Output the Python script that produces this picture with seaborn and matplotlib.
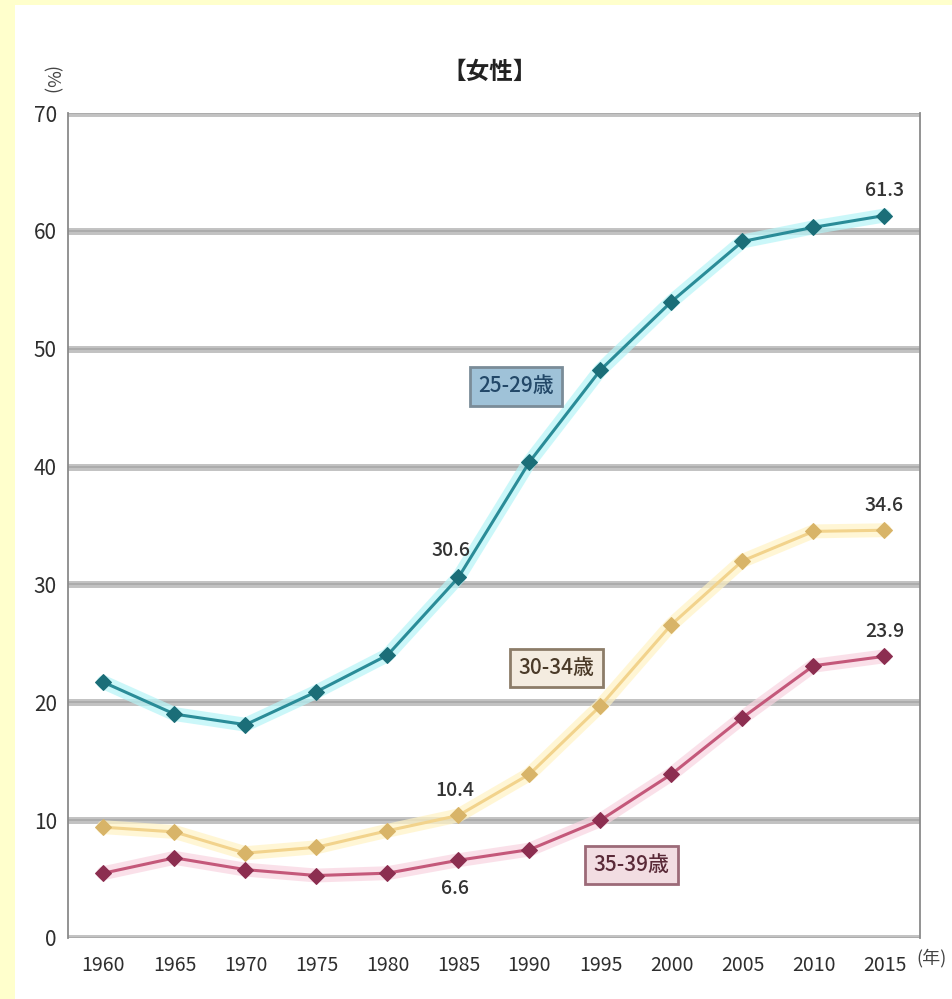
import matplotlib
matplotlib.use("Agg")
import matplotlib.pyplot as plt
from matplotlib.patches import Rectangle
import numpy as np
import pandas as pd
import seaborn as sns

sns.set_theme(style="white")
plt.rcParams["font.family"] = ["Noto Sans CJK JP", "DejaVu Sans"]

# 未婚率の推移（女性、年齢階級別）
years = ["1960", "1965", "1970", "1975", "1980", "1985", "1990",
         "1995", "2000", "2005", "2010", "2015"]
age_25_29 = [21.7, 19.0, 18.1, 20.9, 24.0, 30.6, 40.4, 48.2, 54.0, 59.1, 60.3, 61.3]
age_30_34 = [9.4, 9.0, 7.2, 7.7, 9.1, 10.4, 13.9, 19.7, 26.6, 32.0, 34.5, 34.6]
age_35_39 = [5.5, 6.8, 5.8, 5.3, 5.5, 6.6, 7.5, 10.0, 13.9, 18.7, 23.1, 23.9]
series_names = ["25-29歳", "30-34歳", "35-39歳"]
y_ticks = [0, 10, 20, 30, 40, 50, 60, 70]

df = pd.DataFrame({
    "idx": np.tile(np.arange(len(years)), 3),
    "year": years * 3,
    "rate": age_25_29 + age_30_34 + age_35_39,
    "group": np.repeat(series_names, len(years)),
})

W, H = 953, 999
fig = plt.figure(figsize=(W / 100, H / 100), dpi=100)
fig.patch.set_facecolor("#FFFFCC")
fig.patches.append(Rectangle((15 / W, 0), 1 - 15 / W, 1 - 5 / H,
                             transform=fig.transFigure, facecolor="white",
                             edgecolor="none", zorder=-10))

ax = fig.add_axes([68 / W, 1 - 938 / H, (920 - 68) / W, (938 - 113) / H])
ax.set_zorder(2)
ax.set_facecolor("white")

line_colors = {"25-29歳": "#2a8c98", "30-34歳": "#f2d38c", "35-39歳": "#c4587a"}
marker_colors = {"25-29歳": "#1b6e78", "30-34歳": "#d8b468", "35-39歳": "#8c2e50"}
glow_colors = {"25-29歳": "#b6f4f7", "30-34歳": "#fff3c4", "35-39歳": "#f8d4e0"}

for name in series_names:
    sub = df[df["group"] == name]
    ax.plot(sub["idx"], sub["rate"], color=glow_colors[name], lw=10,
            alpha=0.7, solid_capstyle="round", zorder=2)
    sns.lineplot(data=sub, x="idx", y="rate", ax=ax, color=line_colors[name],
                 lw=2.2, marker="D", markersize=8, markerfacecolor=marker_colors[name],
                 markeredgecolor=marker_colors[name], zorder=3, legend=False)

ax.set_xlim(-0.5, len(years) - 0.5)
ax.set_ylim(0, 70)
ax.set_yticks(y_ticks)
ax.set_yticklabels([str(v) for v in y_ticks], fontsize=15, color="#2e2e2e")
ax.set_xticks(np.arange(len(years)))
ax.set_xticklabels(years, fontsize=14, color="#2e2e2e")
ax.set_xticks(np.arange(len(years) - 1) + 0.5, minor=True)
ax.tick_params(axis="x", which="major", length=0, pad=12)
ax.tick_params(axis="x", which="minor", direction="in", length=6, color="#777777", width=1)
ax.tick_params(axis="y", length=0, pad=8)
ax.set_xlabel("")
ax.set_ylabel("")

for v in y_ticks:
    ax.axhline(v, color="#c2c2c2", lw=5, zorder=1)
    ax.axhline(v, color="#a8a8a8", lw=1.2, zorder=1)

ax.spines["top"].set_visible(False)
ax.spines["bottom"].set_visible(False)
for side in ["left", "right"]:
    ax.spines[side].set_color("#8a8a8a")
    ax.spines[side].set_linewidth(1.3)

# 数値ラベル
lab_kw = dict(fontsize=14, color="#333333", ha="center", fontweight="medium")
ax.text(11, age_25_29[11] + 1.3, f"{age_25_29[11]}", va="bottom", **lab_kw)
ax.text(11, age_30_34[11] + 1.3, f"{age_30_34[11]}", va="bottom", **lab_kw)
ax.text(11, age_35_39[11] + 1.3, f"{age_35_39[11]}", va="bottom", **lab_kw)
ax.text(4.9, age_25_29[5] + 1.5, f"{age_25_29[5]}", va="bottom", **lab_kw)
ax.text(4.95, age_30_34[5] + 1.3, f"{age_30_34[5]}", va="bottom", **lab_kw)
ax.text(4.95, age_35_39[5] - 1.6, f"{age_35_39[5]}", va="top", **lab_kw)

# 系列名ボックス
box_pos = {"25-29歳": (5.81, 46.8), "30-34歳": (6.38, 22.9), "35-39歳": (7.44, 6.2)}
box_face = {"25-29歳": "#9fc2d8", "30-34歳": "#f4ece0", "35-39歳": "#f2dde2"}
box_edge = {"25-29歳": "#7a8c98", "30-34歳": "#8c7c68", "35-39歳": "#9c6a78"}
box_text = {"25-29歳": "#234868", "30-34歳": "#4a3a28", "35-39歳": "#5a2a38"}
for name in series_names:
    x, y = box_pos[name]
    ax.text(x, y, name, ha="center", va="center", fontsize=15,
            color=box_text[name], zorder=5, fontweight="medium",
            bbox=dict(boxstyle="square,pad=0.4", facecolor=box_face[name],
                      edgecolor=box_edge[name], lw=2))

fig.text(490 / W, 1 - 72 / H, "【女性】", ha="center", va="center",
         fontsize=17, color="#222222", fontweight="bold")
fig.text(50 / W, 1 - 80 / H, "(%)", ha="center", va="center",
         fontsize=13, color="#444444", rotation=270)
fig.text(932 / W, 1 - 958 / H, "(年)", ha="center", va="center",
         fontsize=13, color="#444444")

fig.savefig("out.png", dpi=100, facecolor=fig.get_facecolor())
